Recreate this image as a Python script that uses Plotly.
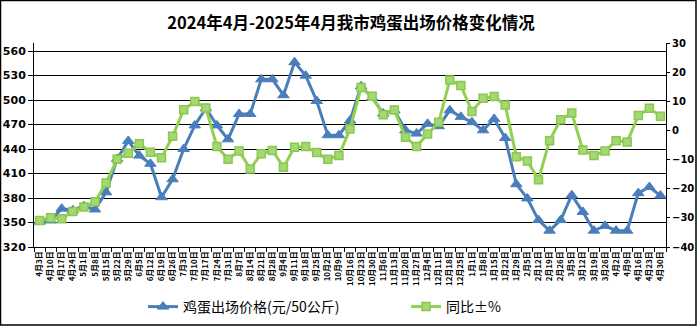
import plotly.graph_objects as go

dates = ["4月3日", "4月10日", "4月17日", "4月24日", "5月1日", "5月8日", "5月15日", "5月22日", "5月29日",
         "6月5日", "6月12日", "6月19日", "6月26日", "7月3日", "7月10日", "7月17日", "7月24日", "7月31日",
         "8月7日", "8月14日", "8月21日", "8月28日", "9月4日", "9月11日", "9月18日", "9月25日",
         "10月2日", "10月9日", "10月16日", "10月23日", "10月30日", "11月6日", "11月13日", "11月20日", "11月27日",
         "12月4日", "12月11日", "12月18日", "12月25日", "1月1日", "1月8日", "1月15日", "1月22日", "1月29日",
         "2月5日", "2月12日", "2月19日", "2月26日", "3月5日", "3月12日", "3月19日", "3月26日",
         "4月2日", "4月9日", "4月16日", "4月23日", "4月30日"]

price = [351, 352.5, 367, 365, 370, 366, 387, 428, 450, 432, 422, 381, 403, 440, 469,
         490, 469, 452, 483, 483, 525.5, 525.5, 506, 546.5, 530, 499, 457, 457, 475, 517,
         503, 483.5, 487.5, 463, 459, 471, 468, 487.5, 479.5, 473, 463, 477, 453.5, 397,
         379.5, 353, 340, 353, 383.5, 363, 340, 346, 340, 340, 386, 393.5, 383]

yoy = [-30.9, -30.0, -30.3, -27.8, -26.3, -24.5, -18.0, -9.9, -7.8, -4.6, -7.5, -9.4, -2.0, 7.1, 9.9,
       7.7, -5.5, -9.9, -7.1, -13.2, -8.0, -6.9, -12.6, -5.8, -5.5, -7.6, -9.9, -8.6, 0.5, 14.7,
       11.7, 5.4, 7.0, -2.3, -5.5, -1.2, 2.8, 17.3, 15.4, 6.5, 11.0, 11.6, 8.7, -9.0,
       -10.5, -16.9, -3.5, 3.7, 6.0, -6.7, -8.6, -7.1, -3.5, -4.0, 5.1, 7.6, 4.9]

left_ticks = [320, 350, 380, 410, 440, 470, 500, 530, 560]
right_ticks = [-40, -30, -20, -10, 0, 10, 20, 30]

title_text = "2024年4月-2025年4月我市鸡蛋出场价格变化情况"
name_price = "鸡蛋出场价格(元/50公斤)"
name_yoy = "同比±%"

BLUE = "#4A7EBB"
GREEN = "#92D050"

W, H = 697, 326
L, R, T, B = 34, 31, 43, 79
pw, ph = W - L - R, H - T - B

def px_x(p):
    return (p - L) / pw

def px_y(p):
    return (H - B - p) / ph

fig = go.Figure()
fig.add_trace(go.Scatter(
    x=dates, y=price, name=name_price, mode="lines+markers",
    line=dict(color=BLUE, width=3),
    marker=dict(symbol="triangle-up", size=10, color=BLUE, line=dict(color=BLUE, width=1)),
))
fig.add_trace(go.Scatter(
    x=dates, y=yoy, name=name_yoy, mode="lines+markers", yaxis="y2",
    line=dict(color=GREEN, width=3),
    marker=dict(symbol="square", size=8, color="#A3D873", line=dict(color="#8CC84F", width=1.5)),
))

axis_font = dict(family="DejaVu Sans", size=11, color="black", weight="bold")
axis_font_r = dict(family="DejaVu Sans", size=10, color="black", weight="bold")

fig.update_layout(
    width=W, height=H,
    margin=dict(l=L, r=R, t=T, b=B, autoexpand=False),
    paper_bgcolor="white", plot_bgcolor="white",
    title=dict(text=title_text, x=351 / W, xanchor="center", y=1 - 23 / H, yanchor="middle",
               font=dict(family="Noto Sans CJK SC", size=16.5, color="black", weight="bold")),
    xaxis=dict(type="category", categoryorder="array", categoryarray=dates,
               tickson="boundaries", ticks="outside", ticklen=4, tickcolor="black",
               showline=True, linecolor="black", linewidth=1, showgrid=False,
               tickangle=-90, dtick=1, tickmode="linear", automargin=False,
               tickfont=dict(family="Noto Sans CJK SC", size=8, color="black", weight="bold"),
               range=[-0.5, len(dates) - 0.5], fixedrange=True),
    yaxis=dict(range=[320, 570], tickvals=left_ticks, showgrid=True, gridcolor="black", gridwidth=1,
               showline=True, linecolor="black", linewidth=1, ticks="outside", ticklen=5,
               tickcolor="black", tickfont=axis_font, zeroline=False, automargin=False),
    yaxis2=dict(range=[-40, 30], tickvals=right_ticks, overlaying="y", side="right",
                showgrid=False, showline=True, linecolor="black", linewidth=1, ticks="outside",
                ticklen=3, tickcolor="black", tickfont=axis_font_r, zeroline=False, automargin=False),
    legend=dict(orientation="h", x=px_x(143), xanchor="left", y=px_y(307), yanchor="middle",
                font=dict(family="Noto Sans CJK SC", size=14, color="black"),
                entrywidth=218, entrywidthmode="pixels", bgcolor="rgba(0,0,0,0)"),
    showlegend=True,
    shapes=[dict(type="rect", xref="paper", yref="paper",
                 x0=px_x(0.5), x1=px_x(696), y0=px_y(325), y1=px_y(0.5),
                 line=dict(color="black", width=1.5), fillcolor="rgba(0,0,0,0)", layer="below")],
)

fig.write_html("out.html")
